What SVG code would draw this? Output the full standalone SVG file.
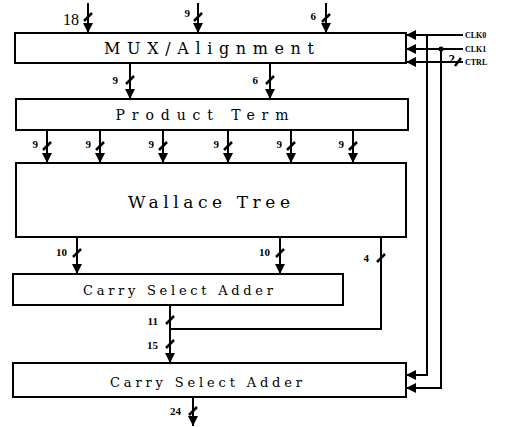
<svg xmlns="http://www.w3.org/2000/svg" width="513" height="427" viewBox="0 0 513 427">
<style>
.box{fill:#fff;stroke:#000;stroke-width:2}
.title{font-family:"DejaVu Serif","Liberation Serif",serif;fill:#000;text-anchor:middle}
.num{font-family:"Liberation Serif",serif;font-weight:bold;fill:#000;text-anchor:end;font-size:11px}
.big{font-weight:normal;font-size:16px}
.sig{font-family:"Liberation Serif",serif;font-weight:bold;fill:#000;font-size:8px}
.w{fill:none;stroke:#000;stroke-width:2}
.sl{fill:none;stroke:#000;stroke-width:2.5}
</style>
<defs>
<marker id="ah" markerUnits="userSpaceOnUse" markerWidth="10" markerHeight="12" refX="10" refY="5" orient="auto">
<path d="M0,0 L10,5 L0,10 Z" fill="#000"/>
</marker>
</defs>
<rect width="513" height="427" fill="#fff"/>
<g id="connectors">
<line class="w" x1="88" y1="3" x2="88" y2="33" marker-end="url(#ah)"/>
<path class="sl" d="M84,21 L92,13"/>
<line class="w" x1="198" y1="3" x2="198" y2="33" marker-end="url(#ah)"/>
<path class="sl" d="M194,21 L202,13"/>
<line class="w" x1="326" y1="3" x2="326" y2="33" marker-end="url(#ah)"/>
<path class="sl" d="M322,22 L330,14"/>
<line class="w" x1="130" y1="63" x2="130" y2="99" marker-end="url(#ah)"/>
<path class="sl" d="M126,84 L134,76"/>
<line class="w" x1="270" y1="63" x2="270" y2="99" marker-end="url(#ah)"/>
<path class="sl" d="M266,84 L274,76"/>
<line class="w" x1="47" y1="130" x2="47" y2="163" marker-end="url(#ah)"/>
<path class="sl" d="M43,150 L51,142"/>
<line class="w" x1="100" y1="130" x2="100" y2="163" marker-end="url(#ah)"/>
<path class="sl" d="M96,150 L104,142"/>
<line class="w" x1="163" y1="130" x2="163" y2="163" marker-end="url(#ah)"/>
<path class="sl" d="M159,150 L167,142"/>
<line class="w" x1="228" y1="130" x2="228" y2="163" marker-end="url(#ah)"/>
<path class="sl" d="M224,150 L232,142"/>
<line class="w" x1="291" y1="130" x2="291" y2="163" marker-end="url(#ah)"/>
<path class="sl" d="M287,150 L295,142"/>
<line class="w" x1="353" y1="130" x2="353" y2="163" marker-end="url(#ah)"/>
<path class="sl" d="M349,150 L357,142"/>
<line class="w" x1="77" y1="237" x2="77" y2="274" marker-end="url(#ah)"/>
<path class="sl" d="M73,257 L81,249"/>
<line class="w" x1="280" y1="237" x2="280" y2="274" marker-end="url(#ah)"/>
<path class="sl" d="M276,257 L284,249"/>
<path class="w" d="M381,237 L381,329 L170,329"/>
<path class="sl" d="M377,262 L385,254"/>
<line class="w" x1="170" y1="305" x2="170" y2="363" marker-end="url(#ah)"/>
<path class="sl" d="M166,324 L174,316"/>
<path class="sl" d="M166,348 L174,340"/>
<line class="w" x1="193" y1="397" x2="193" y2="426" marker-end="url(#ah)"/>
<path class="sl" d="M189,415 L197,407"/>
<line class="w" x1="463" y1="35" x2="406" y2="35" marker-end="url(#ah)"/>
<line class="w" x1="463" y1="49" x2="406" y2="49" marker-end="url(#ah)"/>
<line class="w" x1="463" y1="62" x2="406" y2="62" marker-end="url(#ah)"/>
<path class="sl" d="M455,66 L461,58"/>
<path class="w" d="M427,35 L427,375 L406,375" marker-end="url(#ah)"/>
<path class="w" d="M441,49 L441,388 L406,388" marker-end="url(#ah)"/>
<circle cx="441" cy="49" r="2.5" fill="#000"/>
</g>
<g id="labels">
<text class="num big" x="79" y="25">18</text>
<text class="num" x="190" y="17">9</text>
<text class="num" x="316" y="20">6</text>
<text class="num" x="118" y="84">9</text>
<text class="num" x="258" y="84">6</text>
<text class="num" x="38" y="148">9</text>
<text class="num" x="91" y="148">9</text>
<text class="num" x="154" y="148">9</text>
<text class="num" x="219" y="148">9</text>
<text class="num" x="282" y="148">9</text>
<text class="num" x="344" y="148">9</text>
<text class="num" x="67" y="256">10</text>
<text class="num" x="270" y="256">10</text>
<text class="num" x="369" y="262">4</text>
<text class="num" x="158" y="325">11</text>
<text class="num" x="158" y="349">15</text>
<text class="num" x="181" y="415">24</text>
<text class="num" x="455" y="63" style="font-size:13px">2</text>
<text class="sig" x="465" y="38">CLK0</text>
<text class="sig" x="465" y="52">CLK1</text>
<text class="sig" x="465" y="65">CTRL</text>
</g>
<g id="mux">
<rect class="box" x="15" y="33" width="391" height="30"/>
<text class="title" x="209" y="54" font-size="16" textLength="210" lengthAdjust="spacing">MUX/Alignment</text>
</g>
<g id="product-term">
<rect class="box" x="16" y="99" width="392" height="31"/>
<text class="title" x="202" y="120" font-size="14" textLength="173" lengthAdjust="spacing">Product Term</text>
</g>
<g id="wallace-tree">
<rect class="box" x="16" y="163" width="390" height="74"/>
<text class="title" x="209" y="208" font-size="17" textLength="162" lengthAdjust="spacing">Wallace Tree</text>
</g>
<g id="csa1">
<rect class="box" x="13" y="274" width="330" height="31"/>
<text class="title" x="178" y="295" font-size="13" textLength="190" lengthAdjust="spacing">Carry Select Adder</text>
</g>
<g id="csa2">
<rect class="box" x="13" y="363" width="393" height="34"/>
<text class="title" x="206" y="387" font-size="13" textLength="192" lengthAdjust="spacing">Carry Select Adder</text>
</g>
</svg>
